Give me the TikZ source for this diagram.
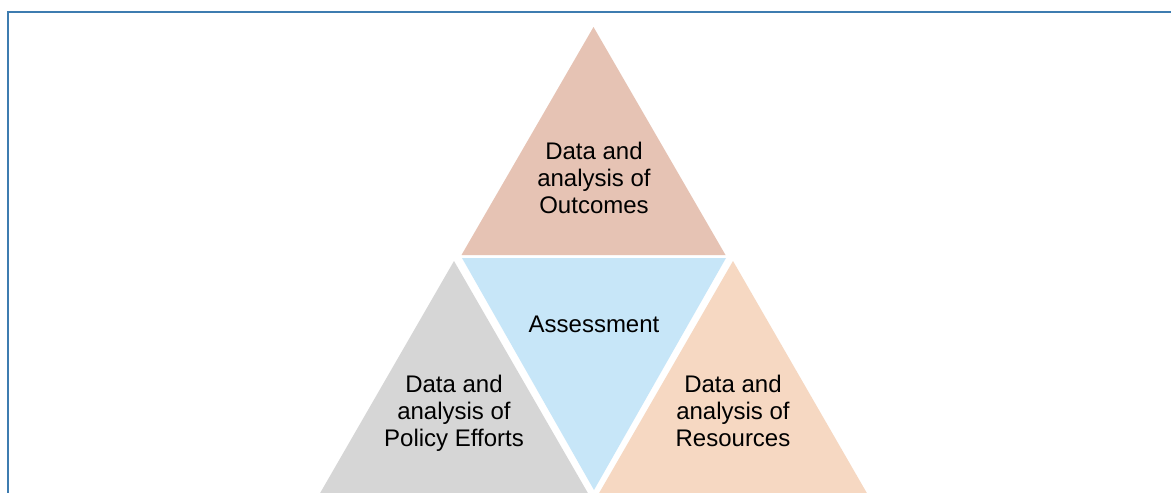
\documentclass[tikz,border=0pt]{standalone}
\usepackage{fontspec}
\setmainfont{Liberation Sans}
\definecolor{framecol}{RGB}{62,124,176}
\definecolor{topcol}{RGB}{230,195,180}
\definecolor{bluecol}{RGB}{199,230,248}
\definecolor{graycol}{RGB}{214,214,214}
\definecolor{peachcol}{RGB}{246,216,194}
\tikzset{
  lbl/.style={align=center, font=\fontsize{24}{27}\selectfont, text=black, inner sep=0pt},
  tri/.style={draw=none}
}
\begin{document}
\begin{tikzpicture}[x=1pt,y=-1pt]
\useasboundingbox (0,0) rectangle (1171,493);
\clip (0,0) rectangle (1171,493);
\fill[white] (0,0) rectangle (1171,493);
% frame
\draw[framecol, line width=2pt] (7.5,496) -- (7.5,11.5) -- (1175,11.5);
% triangles
\fill[topcol] (593.5,27) -- (725.5,255) -- (461.5,255) -- cycle;
\fill[bluecol] (462,258) -- (726,258) -- (594,490) -- cycle;
\fill[graycol] (454,261) -- (589,495) -- (319,495) -- cycle;
\fill[peachcol] (733,261) -- (868,495) -- (598,495) -- cycle;
% labels
\node[lbl] (outcomes) at (594,178) {Data and\\analysis of\\Outcomes};
\node[lbl] (assess) at (594,324) {Assessment};
\node[lbl] (policy) at (454,413) {Data and\\analysis of\\Policy Efforts};
\node[lbl] (resources) at (733,411) {Data and\\analysis of\\Resources};
\end{tikzpicture}
\end{document}
